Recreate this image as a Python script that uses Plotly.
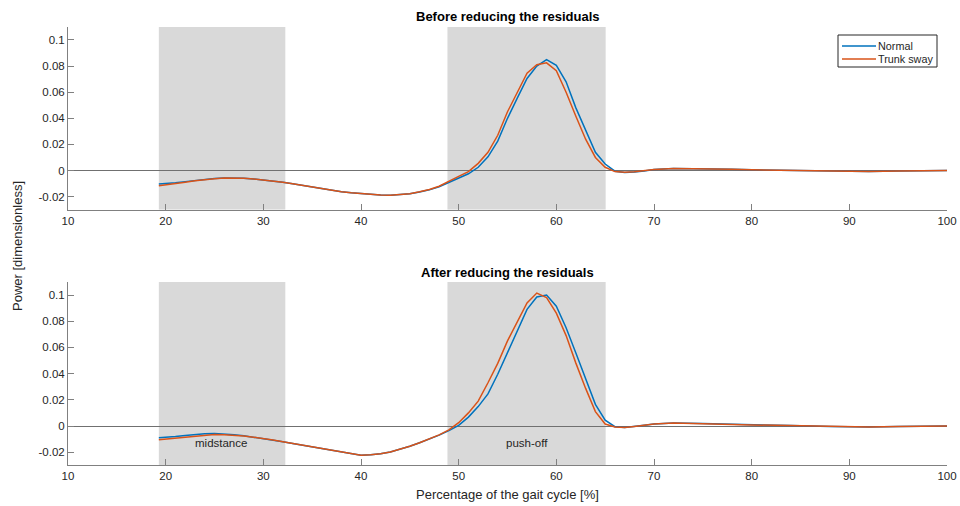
import plotly.graph_objects as go

# ---------------- data ----------------
gait_x = [19.3, 20, 21, 22, 23, 24, 25, 26, 27, 28, 29, 30, 31, 32, 33, 34, 35, 36, 37, 38, 39,
          40, 41, 42, 43, 44, 45, 46, 47, 48, 49, 50, 51, 52, 53, 54, 55, 56, 57, 58, 59,
          60, 61, 62, 63, 64, 65, 66, 67, 68, 69, 70, 72, 75, 78, 80, 84, 88, 90, 92, 95, 100]

before_normal = [-0.0104, -0.0101, -0.0094, -0.0085, -0.0076, -0.0068, -0.0062, -0.0058, -0.0057,
                 -0.0059, -0.0064, -0.0071, -0.0080, -0.0090, -0.0101, -0.0113, -0.0127, -0.0140,
                 -0.0152, -0.0162, -0.0170, -0.0177, -0.0184, -0.0188, -0.0190, -0.0186, -0.0178,
                 -0.0165, -0.0148, -0.0124, -0.0090, -0.0055, -0.0025, 0.0025, 0.0105, 0.0225,
                 0.0400, 0.0555, 0.0705, 0.0800, 0.0850, 0.0805, 0.0680, 0.0480, 0.0305, 0.0140,
                 0.0050, -0.0005, -0.0015, -0.0012, -0.0003, 0.0008, 0.0016, 0.0015, 0.0010, 0.0006,
                 0.0002, -0.0004, -0.0007, -0.0007, -0.0004, 0.0000]

before_trunk = [-0.0117, -0.0111, -0.0100, -0.0089, -0.0078, -0.0069, -0.0063, -0.0058, -0.0057,
                -0.0059, -0.0064, -0.0071, -0.0080, -0.0090, -0.0101, -0.0113, -0.0127, -0.0140,
                -0.0152, -0.0162, -0.0170, -0.0177, -0.0184, -0.0188, -0.0190, -0.0186, -0.0177,
                -0.0163, -0.0145, -0.0120, -0.0085, -0.0045, -0.0008, 0.0055, 0.0140, 0.0270,
                0.0450, 0.0600, 0.0745, 0.0810, 0.0825, 0.0765, 0.0600, 0.0415, 0.0240, 0.0100,
                0.0025, -0.0008, -0.0014, -0.0010, -0.0002, 0.0008, 0.0016, 0.0015, 0.0010, 0.0006,
                0.0002, -0.0004, -0.0007, -0.0007, -0.0004, 0.0000]

after_normal = [-0.0090, -0.0087, -0.0080, -0.0072, -0.0064, -0.0059, -0.0057, -0.0059, -0.0066,
                -0.0075, -0.0085, -0.0095, -0.0107, -0.0120, -0.0133, -0.0146, -0.0159, -0.0172,
                -0.0184, -0.0196, -0.0210, -0.0223, -0.0220, -0.0212, -0.0198, -0.0177, -0.0155,
                -0.0128, -0.0100, -0.0070, -0.0035, 0.0005, 0.0068, 0.0148, 0.0245, 0.0395,
                0.0560, 0.0730, 0.0890, 0.0985, 0.1000, 0.0915, 0.0750, 0.0557, 0.0356, 0.0165,
                0.0045, -0.0005, -0.0012, -0.0005, 0.0005, 0.0015, 0.0022, 0.0019, 0.0012, 0.0008,
                0.0003, -0.0004, -0.0007, -0.0007, -0.0004, 0.0000]

after_trunk = [-0.0105, -0.0100, -0.0091, -0.0082, -0.0074, -0.0068, -0.0065, -0.0066, -0.0070,
               -0.0077, -0.0086, -0.0095, -0.0107, -0.0120, -0.0133, -0.0146, -0.0159, -0.0172,
               -0.0184, -0.0196, -0.0210, -0.0223, -0.0220, -0.0212, -0.0198, -0.0177, -0.0155,
               -0.0128, -0.0099, -0.0068, -0.0030, 0.0025, 0.0100, 0.0190, 0.0330, 0.0478,
               0.0650, 0.0800, 0.0940, 0.1015, 0.0980, 0.0862, 0.0690, 0.0480, 0.0287, 0.0110,
               0.0015, -0.0008, -0.0012, -0.0004, 0.0005, 0.0015, 0.0022, 0.0019, 0.0012, 0.0008,
               0.0003, -0.0004, -0.0007, -0.0007, -0.0004, 0.0000]

phase_names = ["midstance", "push-off"]
phase_start = [19.3, 48.85]
phase_end = [32.25, 65.05]
phase_label_x = [25.7, 57.0]
phase_label_y = [-0.013, -0.013]

series_names = ["Normal", "Trunk sway"]
series_colors = ["#0072BD", "#D95319"]
panel_titles = ["Before reducing the residuals", "After reducing the residuals"]

x_ticks = [10, 20, 30, 40, 50, 60, 70, 80, 90, 100]
y_ticks = [-0.02, 0, 0.02, 0.04, 0.06, 0.08, 0.1]
y_tick_text = ["-0.02", "0", "0.02", "0.04", "0.06", "0.08", "0.1"]

# ---------------- figure ----------------
W, H = 960, 506
FONT = "Liberation Sans, Arial, Helvetica, sans-serif"
AX = "#808080"
TXT = "#262626"

fig = go.Figure()

panels = [(before_normal, before_trunk, "x", "y"), (after_normal, after_trunk, "x2", "y2")]
for i, (s1, s2, xa, ya) in enumerate(panels):
    for name, vals, col in zip(series_names, [s1, s2], series_colors):
        fig.add_trace(go.Scatter(
            x=gait_x, y=vals, mode="lines", name=name,
            line=dict(color=col, width=1.5),
            xaxis=xa, yaxis=ya, showlegend=False, hoverinfo="skip"))
    for s, e in zip(phase_start, phase_end):
        fig.add_shape(type="rect", xref=xa, yref=ya, x0=s, x1=e, y0=-0.03, y1=0.11,
                      fillcolor="#d9d9d9", line=dict(width=0), layer="below")

x_dom = [68 / W, 947 / W]
top_dom = [1 - 209.7 / H, 1 - 26.9 / H]
bot_dom = [1 - 465.3 / H, 1 - 281.9 / H]

xaxis_common = dict(range=[10, 100], tickvals=x_ticks, ticks="inside", ticklen=6,
                    tickcolor=AX, showline=True, linecolor=AX, linewidth=1,
                    showgrid=False, zeroline=False, domain=x_dom, automargin=False,
                    tickfont=dict(family=FONT, size=11.5, color=TXT))
yaxis_common = dict(range=[-0.03, 0.11], tickvals=y_ticks, ticktext=y_tick_text,
                    ticks="inside", ticklen=6, tickcolor=AX, showline=True, linecolor=AX,
                    linewidth=1, showgrid=False, zeroline=True, zerolinecolor="#707070",
                    zerolinewidth=1, automargin=False,
                    tickfont=dict(family=FONT, size=11.5, color=TXT))

fig.update_layout(
    template="none",
    width=W, height=H,
    margin=dict(l=0, r=0, t=0, b=0, pad=0),
    paper_bgcolor="white", plot_bgcolor="white",
    font=dict(family=FONT, size=11.5, color=TXT),
    xaxis=dict(**xaxis_common, anchor="y"),
    yaxis=dict(**yaxis_common, domain=top_dom, anchor="x"),
    xaxis2=dict(**xaxis_common, anchor="y2"),
    yaxis2=dict(**yaxis_common, domain=bot_dom, anchor="x2"),
    showlegend=False,
)

# panel titles
title_y = [1 - 16 / H, 1 - 272 / H]
for t, ty in zip(panel_titles, title_y):
    fig.add_annotation(text="<b>" + t + "</b>", xref="paper", yref="paper",
                       x=(68 + 947) / 2 / W, y=ty, showarrow=False,
                       font=dict(family=FONT, size=13, color="black"),
                       xanchor="center", yanchor="middle")

# phase labels in bottom panel
for nm, lx, ly in zip(phase_names, phase_label_x, phase_label_y):
    fig.add_annotation(text=nm, xref="x2", yref="y2", x=lx, y=ly, showarrow=False,
                       font=dict(family=FONT, size=11.5, color=TXT),
                       xanchor="center", yanchor="middle")

# legend (box with line samples in the top panel, paper coordinates)
fig.add_shape(type="rect", xref="paper", yref="paper",
              x0=838 / W, x1=937 / W, y0=1 - 67 / H, y1=1 - 35 / H,
              fillcolor="white", line=dict(color=TXT, width=1), layer="above")
legend_rows_y = [46, 59]
for name, col, ry in zip(series_names, series_colors, legend_rows_y):
    fig.add_shape(type="line", xref="paper", yref="paper",
                  x0=842 / W, x1=876 / W, y0=1 - ry / H, y1=1 - ry / H,
                  line=dict(color=col, width=1.5), layer="above")
    fig.add_annotation(text=name, xref="paper", yref="paper", x=877 / W, y=1 - ry / H,
                       showarrow=False, xanchor="left", yanchor="middle", borderpad=0,
                       font=dict(family=FONT, size=10.8, color=TXT))

# axis labels
fig.add_annotation(text="Percentage of the gait cycle [%]", xref="paper", yref="paper",
                   x=(68 + 947) / 2 / W, y=1 - 494 / H, showarrow=False,
                   font=dict(family=FONT, size=13, color=TXT),
                   xanchor="center", yanchor="middle")
fig.add_annotation(text="Power [dimensionless]", xref="paper", yref="paper",
                   x=17 / W, y=1 - 246 / H, showarrow=False, textangle=-90,
                   font=dict(family=FONT, size=13, color=TXT),
                   xanchor="center", yanchor="middle")

fig.write_html("out.html")
